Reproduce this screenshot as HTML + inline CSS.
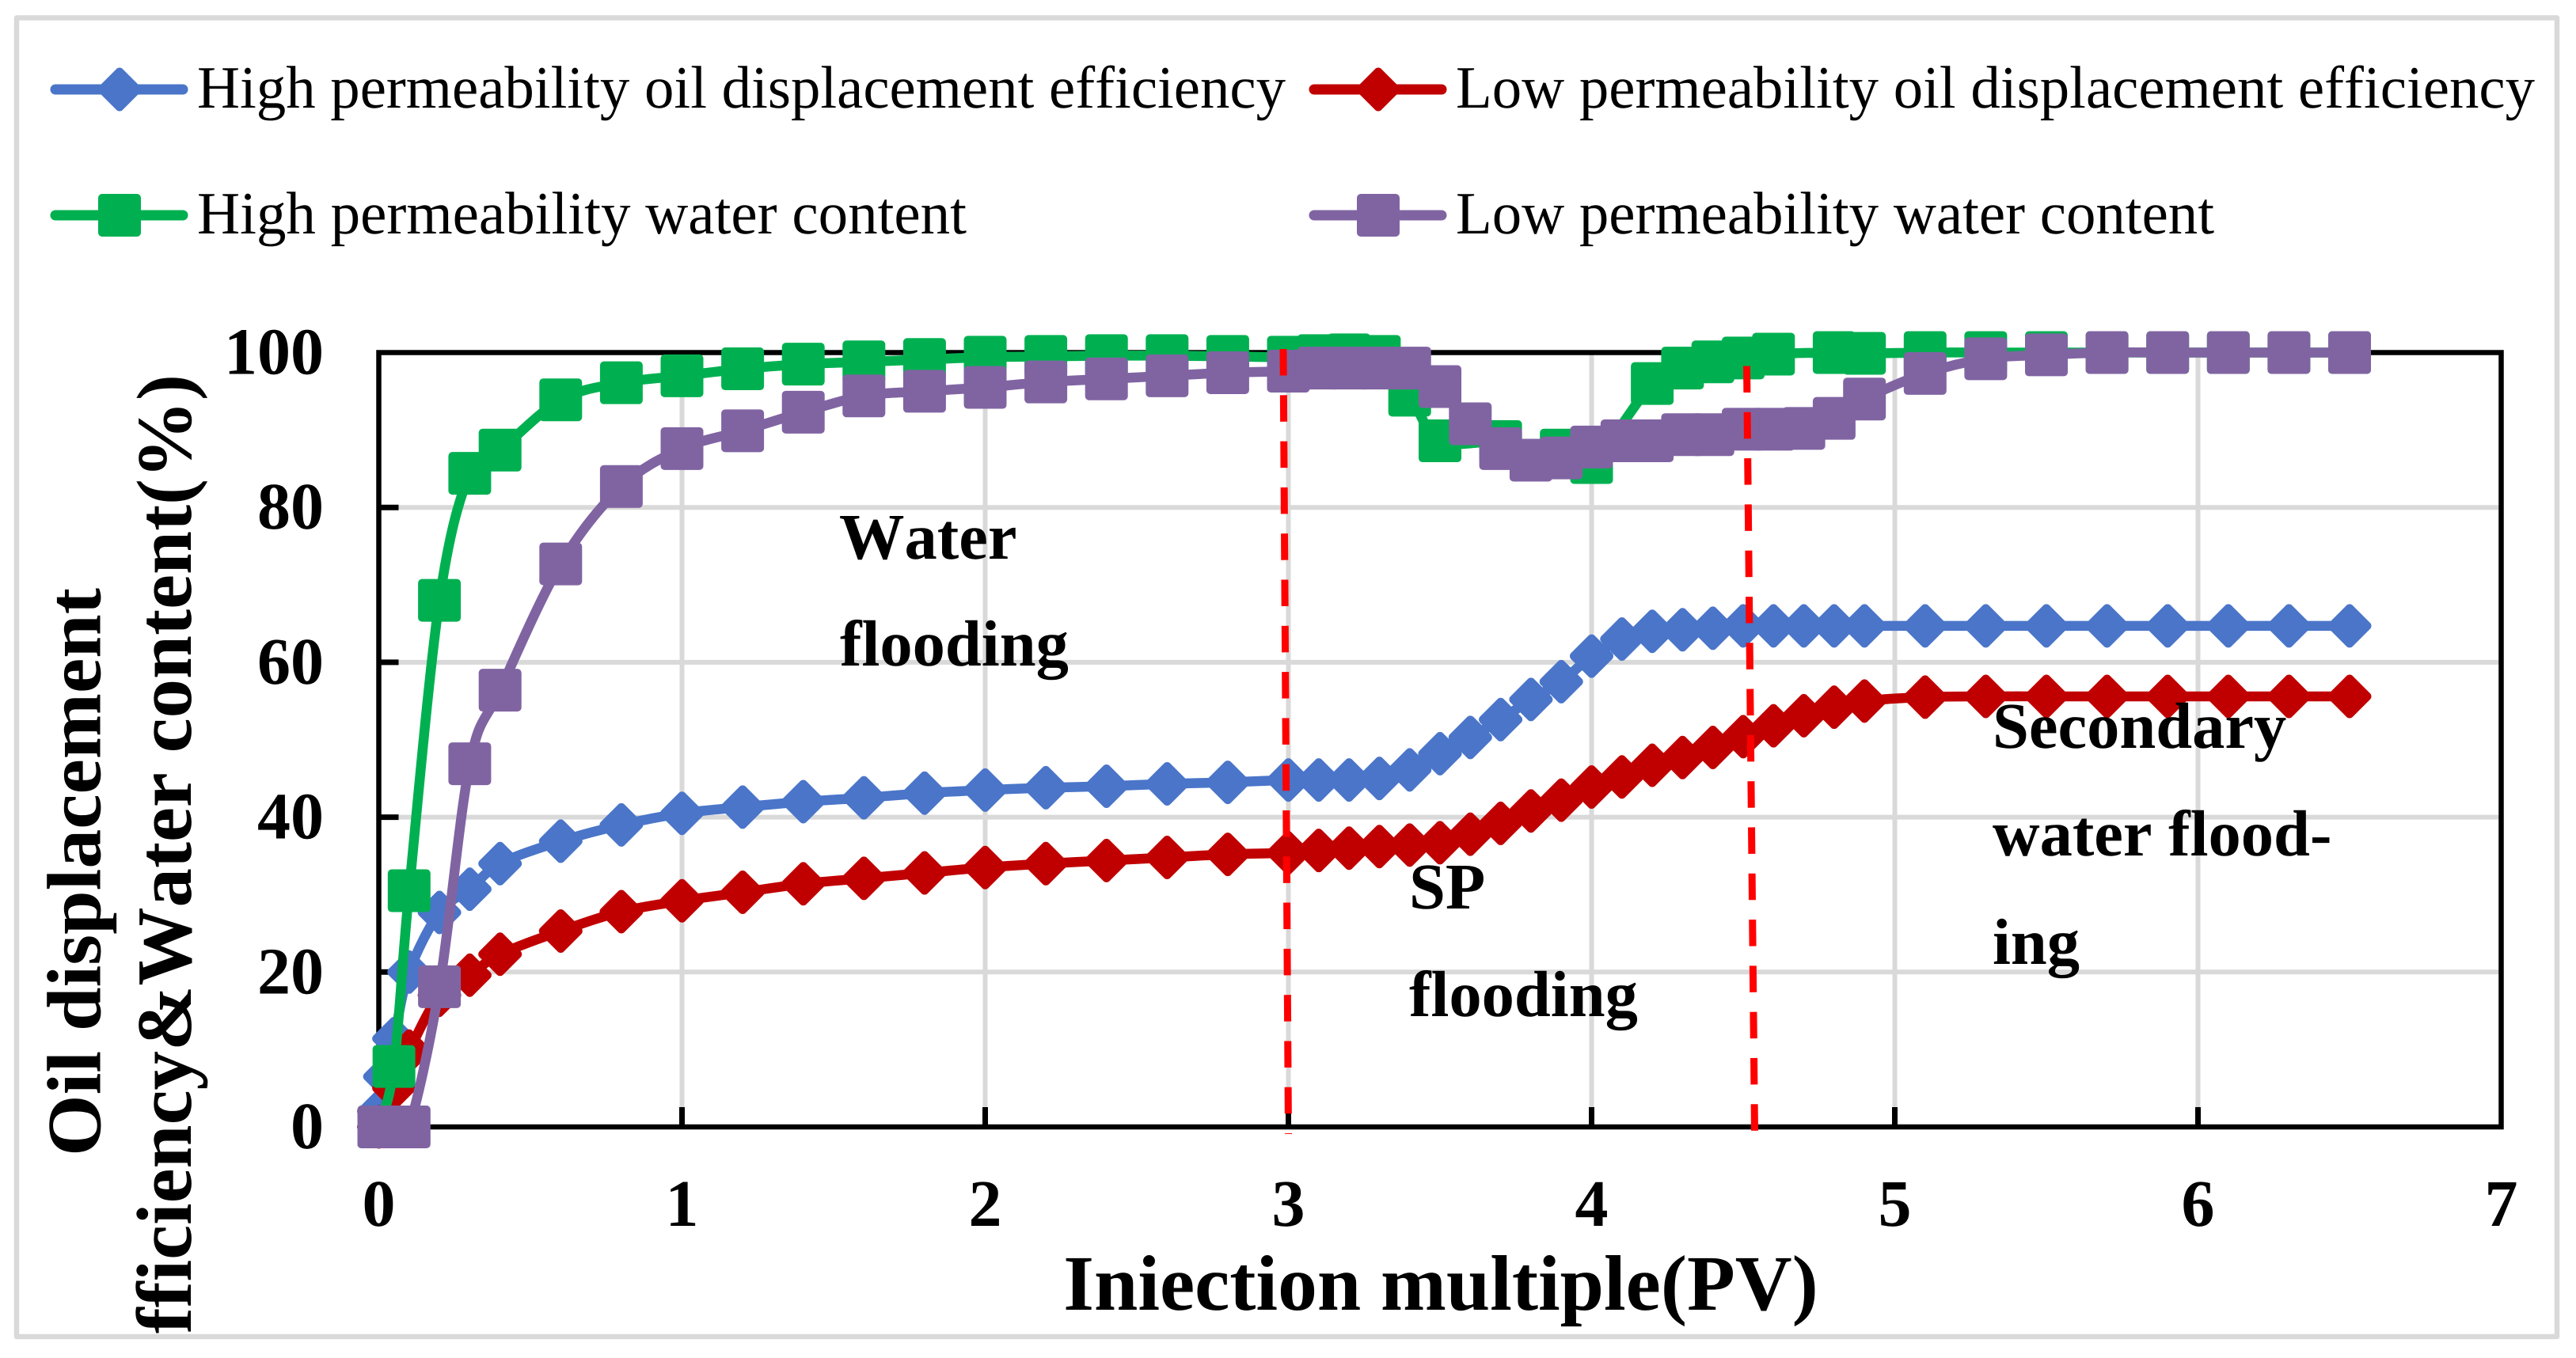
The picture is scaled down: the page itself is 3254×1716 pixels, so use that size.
<!DOCTYPE html>
<html lang="en">
<head>
<meta charset="utf-8">
<title>Oil displacement efficiency and water content vs injection multiple</title>
<style>
html,body{margin:0;padding:0;background:#fff;width:3254px;height:1716px;overflow:hidden}
svg{display:block}
text{font-family:"Liberation Serif","Times New Roman",serif;fill:#000;text-rendering:geometricPrecision;font-kerning:none;font-variant-ligatures:none}
.b{font-weight:bold}
</style>
</head>
<body>
<svg id="chart" xmlns="http://www.w3.org/2000/svg" width="3254" height="1716" viewBox="0 0 3254 1716">
  <defs><clipPath id="titleClip"><rect x="0" y="0" width="600" height="1687"></rect></clipPath></defs>
  <rect x="0" y="0" width="3254" height="1716" fill="#fff"></rect>
  <g id="grid"></g>
  <g id="axes"></g>
  <g id="series"></g>
  <g class="b" font-size="82.5" font-weight="bold">
    <text class="b" x="1060" y="706">Water</text>
    <text class="b" x="1061" y="841">flooding</text>
    <text class="b" x="1780" y="1148">SP</text>
    <text class="b" x="1780" y="1284">flooding</text>
    <text class="b" x="2517" y="945">Secondary</text>
    <text class="b" x="2517" y="1081">water flood-</text>
    <text class="b" x="2517" y="1218">ing</text>
  </g>
  <g>
    <line x1="1621" y1="441" x2="1627.5" y2="1433" stroke="#ff0000" stroke-width="9" stroke-dasharray="33.5 24.8"></line>
    <line x1="2206.5" y1="462.5" x2="2216.5" y2="1431" stroke="#ff0000" stroke-width="9" stroke-dasharray="33.5 24.8"></line>
  </g>
  <g id="ticks" font-size="84" font-weight="bold"></g>
  <text class="b" x="1820" y="1655" font-size="99.5" text-anchor="middle">Iniection multiple(PV)</text>
  <g clip-path="url(#titleClip)">
    <text class="b" transform="translate(126.5 1461) rotate(-90)" font-size="97" textLength="718" lengthAdjust="spacingAndGlyphs">Oil displacement</text>
    <text class="b" transform="translate(241 473) rotate(-90)" font-size="99" text-anchor="end">fficiency&amp;Water content(%)</text>
  </g>
  <g font-size="76">
    <g>
      <line x1="70" y1="113" x2="231" y2="113" stroke="#4a75c9" stroke-width="13" stroke-linecap="round"></line>
      <path d="M151 91 L173 113 L151 135 L129 113 Z" fill="#4a75c9" stroke="#4a75c9" stroke-width="11" stroke-linejoin="round"></path>
      <text x="249" y="136" textLength="1375" lengthAdjust="spacingAndGlyphs">High permeability oil displacement efficiency</text>
    </g>
    <g>
      <line x1="1660" y1="113" x2="1821" y2="113" stroke="#c00000" stroke-width="13" stroke-linecap="round"></line>
      <path d="M1741 91 L1763 113 L1741 135 L1719 113 Z" fill="#c00000" stroke="#c00000" stroke-width="11" stroke-linejoin="round"></path>
      <text x="1839" y="136" textLength="1363" lengthAdjust="spacingAndGlyphs">Low permeability oil displacement efficiency</text>
    </g>
    <g>
      <line x1="70" y1="272" x2="231" y2="272" stroke="#00b050" stroke-width="13" stroke-linecap="round"></line>
      <rect x="124" y="245" width="54" height="54" rx="5" fill="#00b050"></rect>
      <text x="249" y="295" textLength="972" lengthAdjust="spacingAndGlyphs">High permeability water content</text>
    </g>
    <g>
      <line x1="1660" y1="272" x2="1821" y2="272" stroke="#8064a2" stroke-width="13" stroke-linecap="round"></line>
      <rect x="1714" y="245" width="54" height="54" rx="5" fill="#8064a2"></rect>
      <text x="1839" y="295" textLength="958" lengthAdjust="spacingAndGlyphs">Low permeability water content</text>
    </g>
  </g>
  <rect x="21" y="22.5" width="3209" height="1666.5" fill="none" stroke="#d9d9d9" stroke-width="6.5" stroke-linejoin="round"></rect>
</svg>
<script>
var xTickLabels = [0, 1, 2, 3, 4, 5, 6, 7];
var yTickLabels = [0, 20, 40, 60, 80, 100];

var highOilX = [0, 0.02, 0.05, 0.1, 0.2, 0.3, 0.4, 0.6, 0.8, 1, 1.2, 1.4, 1.6, 1.8, 2, 2.2, 2.4, 2.6, 2.8, 3, 3.1, 3.2, 3.3, 3.4, 3.5, 3.6, 3.7, 3.8, 3.9, 4, 4.1, 4.2, 4.3, 4.4, 4.5, 4.6, 4.7, 4.8, 4.9, 5.1, 5.3, 5.5, 5.7, 5.9, 6.1, 6.3, 6.5];
var highOilY = [2, 6.5, 11.4, 20, 27.7, 30.7, 34, 36.9, 39, 40.5, 41.3, 42, 42.5, 43.1, 43.5, 43.8, 44, 44.3, 44.5, 44.8, 44.8, 44.8, 45, 46.1, 48.2, 50.3, 52.6, 55.2, 57.5, 60.8, 63, 64, 64.2, 64.4, 64.7, 64.7, 64.7, 64.7, 64.7, 64.7, 64.7, 64.7, 64.7, 64.7, 64.7, 64.7, 64.7];

var lowOilX = [0, 0.05, 0.1, 0.2, 0.3, 0.4, 0.6, 0.8, 1, 1.2, 1.4, 1.6, 1.8, 2, 2.2, 2.4, 2.6, 2.8, 3, 3.1, 3.2, 3.3, 3.4, 3.5, 3.6, 3.7, 3.8, 3.9, 4, 4.1, 4.2, 4.3, 4.4, 4.5, 4.6, 4.7, 4.8, 4.9, 5.1, 5.3, 5.5, 5.7, 5.9, 6.1, 6.3, 6.5];
var lowOilY = [0, 5, 9.8, 17, 19.6, 22.3, 25.3, 27.8, 29.2, 30.3, 31.4, 32.1, 32.8, 33.5, 34, 34.4, 34.8, 35.2, 35.4, 35.7, 36, 36.2, 36.4, 36.7, 37.8, 39.2, 40.8, 42.2, 43.9, 45.2, 46.7, 47.7, 49, 50.4, 51.8, 53.1, 54.2, 55, 55.5, 55.6, 55.6, 55.6, 55.6, 55.6, 55.6, 55.6];

var highWaterX = [0, 0.05, 0.1, 0.2, 0.3, 0.4, 0.6, 0.8, 1, 1.2, 1.4, 1.6, 1.8, 2, 2.2, 2.4, 2.6, 2.8, 3, 3.1, 3.2, 3.3, 3.4, 3.5, 3.7, 3.9, 4, 4.2, 4.3, 4.4, 4.5, 4.6, 4.8, 4.9, 5.1, 5.3, 5.5, 5.7, 5.9, 6.1, 6.3, 6.5];
var highWaterY = [0, 7.8, 30.5, 68, 84.4, 87.4, 93.9, 96.1, 97, 97.9, 98.5, 98.8, 99.1, 99.4, 99.5, 99.6, 99.6, 99.5, 99.4, 99.6, 99.7, 99.5, 94.5, 88.6, 88.5, 87.4, 85.8, 96, 98, 98.8, 99.3, 99.8, 100, 99.9, 100, 100, 100, 100, 100, 100, 100, 100];

var lowWaterX = [0, 0.05, 0.1, 0.2, 0.3, 0.4, 0.6, 0.8, 1, 1.2, 1.4, 1.6, 1.8, 2, 2.2, 2.4, 2.6, 2.8, 3, 3.1, 3.2, 3.3, 3.4, 3.5, 3.6, 3.7, 3.8, 3.9, 4, 4.1, 4.2, 4.3, 4.4, 4.5, 4.6, 4.7, 4.8, 4.9, 5.1, 5.3, 5.5, 5.7, 5.9, 6.1, 6.3, 6.5];
var lowWaterY = [0, 0, 0, 18.1, 46.9, 56.4, 72.7, 82.7, 87.6, 89.9, 92.3, 94.4, 95, 95.5, 96.2, 96.6, 97, 97.4, 97.6, 98, 98, 98, 98, 95.6, 90.8, 87.6, 86.1, 86.4, 87.8, 88.6, 88.6, 89.4, 89.4, 90.1, 90.1, 90.2, 91.5, 94, 97.3, 99.2, 99.7, 100, 100, 100, 100, 100];

var NS = 'http://www.w3.org/2000/svg';
var plot = {left: 478.5, right: 3159.5, top: 445.5, bottom: 1424};
var xMax = 7, yMax = 100;
function sx(v) { return plot.left + (plot.right - plot.left) * v / xMax; }
function sy(v) { return plot.bottom - (plot.bottom - plot.top) * v / yMax; }
function mk(tag, parent) { var e = document.createElementNS(NS, tag); parent.appendChild(e); return e; }
function smoothPath(pts) {
  var d = 'M' + pts[0][0].toFixed(1) + ' ' + pts[0][1].toFixed(1);
  for (var i = 0; i < pts.length - 1; i++) {
    var p0 = pts[Math.max(i - 1, 0)], p1 = pts[i], p2 = pts[i + 1], p3 = pts[Math.min(i + 2, pts.length - 1)];
    var c1x = p1[0] + (p2[0] - p0[0]) / 6, c1y = p1[1] + (p2[1] - p0[1]) / 6;
    var c2x = p2[0] - (p3[0] - p1[0]) / 6, c2y = p2[1] - (p3[1] - p1[1]) / 6;
    d += 'C' + c1x.toFixed(1) + ' ' + c1y.toFixed(1) + ' ' + c2x.toFixed(1) + ' ' + c2y.toFixed(1) + ' ' + p2[0].toFixed(1) + ' ' + p2[1].toFixed(1);
  }
  return d;
}

var gridG = document.getElementById('grid');
yTickLabels.forEach(function (t) {
  if (t === 0 || t === yMax) return;
  var l = mk('line', gridG);
  
  
  l.setAttribute('x1', plot.left); l.setAttribute('x2', plot.right);
  l.setAttribute('y1', sy(t)); l.setAttribute('y2', sy(t));
  l.setAttribute('stroke', '#d9d9d9'); l.setAttribute('stroke-width', '6');
});
xTickLabels.forEach(function (t) {
  if (t === 0 || t === xMax) return;
  var l = mk('line', gridG);
  
  
  l.setAttribute('x1', sx(t)); l.setAttribute('x2', sx(t));
  l.setAttribute('y1', plot.top); l.setAttribute('y2', plot.bottom);
  l.setAttribute('stroke', '#d9d9d9'); l.setAttribute('stroke-width', '6');
});

var axesG = document.getElementById('axes');
var frame = mk('rect', axesG);


frame.setAttribute('x', plot.left); frame.setAttribute('y', plot.top);
frame.setAttribute('width', plot.right - plot.left); frame.setAttribute('height', plot.bottom - plot.top);
frame.setAttribute('fill', 'none'); frame.setAttribute('stroke', '#000'); frame.setAttribute('stroke-width', '6.5');
yTickLabels.forEach(function (t) {
  if (t === yMax) return;
  var l = mk('line', axesG);
  
  
  l.setAttribute('x1', plot.left); l.setAttribute('x2', plot.left + 25);
  l.setAttribute('y1', sy(t)); l.setAttribute('y2', sy(t));
  l.setAttribute('stroke', '#000'); l.setAttribute('stroke-width', '7');
});
xTickLabels.forEach(function (t) {
  if (t === xMax) return;
  var l = mk('line', axesG);
  
  
  l.setAttribute('x1', sx(t)); l.setAttribute('x2', sx(t));
  l.setAttribute('y1', plot.bottom); l.setAttribute('y2', plot.bottom - 25);
  l.setAttribute('stroke', '#000'); l.setAttribute('stroke-width', '7');
});

var ticksG = document.getElementById('ticks');
yTickLabels.forEach(function (t) {
  var e = mk('text', ticksG);
  
  
  e.setAttribute('class', 'b');
  e.setAttribute('x', 409); e.setAttribute('y', sy(t) + 27);
  e.setAttribute('text-anchor', 'end');
  e.textContent = t;
});
xTickLabels.forEach(function (t) {
  var e = mk('text', ticksG);
  
  
  e.setAttribute('class', 'b');
  e.setAttribute('x', sx(t)); e.setAttribute('y', 1549);
  e.setAttribute('text-anchor', 'middle');
  e.textContent = t;
});

var seriesG = document.getElementById('series');
function drawSeries(xs, ys, color, marker, name) {
  var g = mk('g', seriesG);
  
  
  var pts = xs.map(function (x, i) { return [sx(x), sy(ys[i])]; });
  var p = mk('path', g);
  
  
  p.setAttribute('d', smoothPath(pts));
  p.setAttribute('fill', 'none'); p.setAttribute('stroke', color);
  p.setAttribute('stroke-width', '12.5'); p.setAttribute('stroke-linecap', 'round'); p.setAttribute('stroke-linejoin', 'round');
  pts.forEach(function (pt) {
    var m;
    if (marker === 'diamond') {
      m = mk('path', g);
      m.setAttribute('d', 'M' + pt[0] + ' ' + (pt[1] - 22) + 'L' + (pt[0] + 22) + ' ' + pt[1] + 'L' + pt[0] + ' ' + (pt[1] + 22) + 'L' + (pt[0] - 22) + ' ' + pt[1] + 'Z');
      m.setAttribute('stroke', color); m.setAttribute('stroke-width', '11'); m.setAttribute('stroke-linejoin', 'round');
    } else {
      m = mk('rect', g);
      m.setAttribute('x', pt[0] - 27); m.setAttribute('y', pt[1] - 27);
      m.setAttribute('width', 54); m.setAttribute('height', 54); m.setAttribute('rx', 5);
    }
    
    
    m.setAttribute('fill', color);
  });
}
drawSeries(highOilX, highOilY, '#4a75c9', 'diamond', 'high-permeability-oil-series');
drawSeries(lowOilX, lowOilY, '#c00000', 'diamond', 'low-permeability-oil-series');
drawSeries(highWaterX, highWaterY, '#00b050', 'square', 'high-permeability-water-series');
drawSeries(lowWaterX, lowWaterY, '#8064a2', 'square', 'low-permeability-water-series');
</script>
</body>
</html>
